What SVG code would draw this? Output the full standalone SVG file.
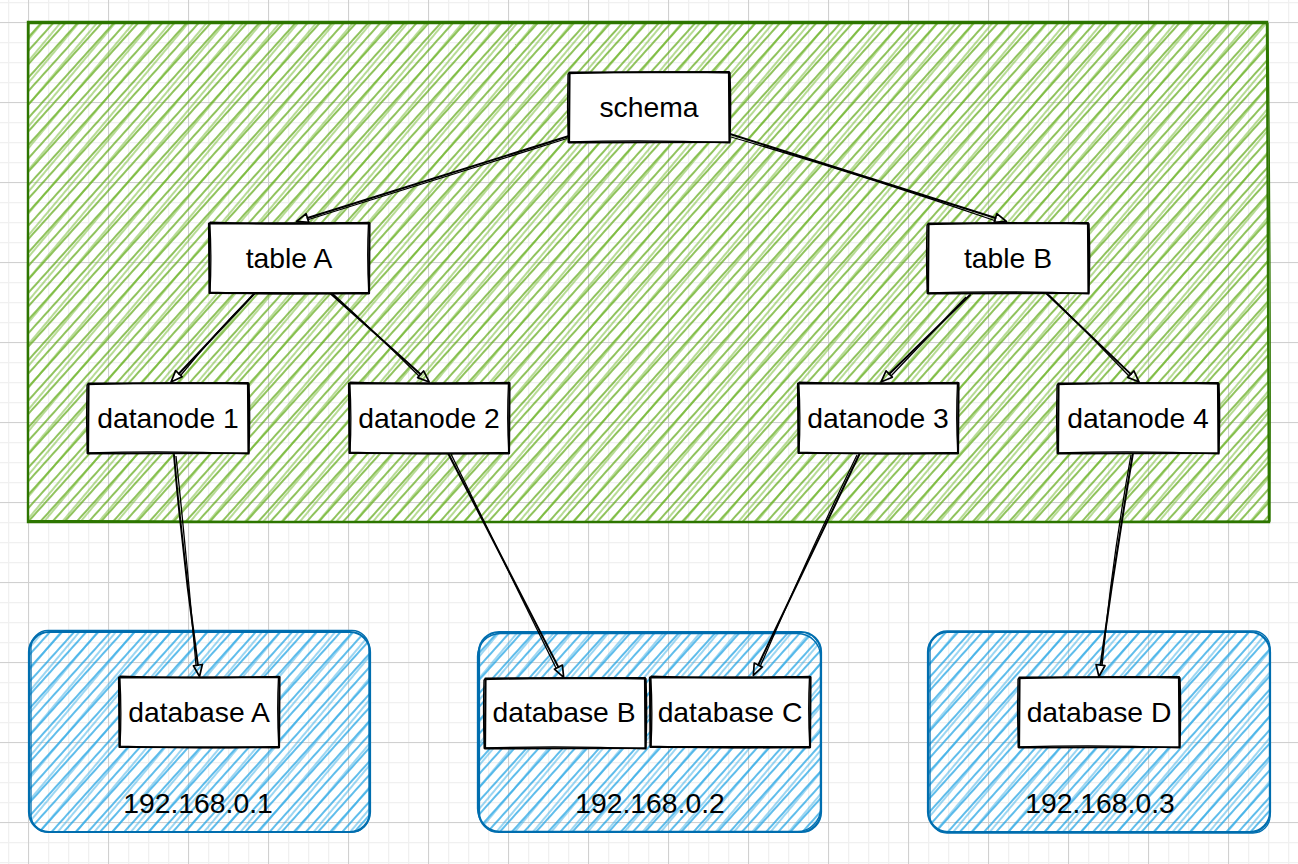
<svg xmlns="http://www.w3.org/2000/svg" xmlns:xlink="http://www.w3.org/1999/xlink" width="1298" height="864" viewBox="0 0 1298 864">
<style>
.t{font-family:"Liberation Sans",Arial,Helvetica,sans-serif;font-size:28.3px;fill:#000;text-anchor:middle}
.sk{fill:none;stroke:#000;stroke-width:2.2;stroke-linejoin:round}
.sk2{fill:none;stroke:#000;stroke-width:1.3}
.c{fill:none;stroke:#000;stroke-width:2;stroke-linecap:round}
.c2{fill:none;stroke:#000;stroke-width:1.3}
.gb{fill:none;stroke:#2D7600;stroke-width:2.4}
.gb2{fill:none;stroke:#2D7600;stroke-width:1.3}
.bb{fill:none;stroke:#006EAF;stroke-width:2.2}
.bb2{fill:none;stroke:#006EAF;stroke-width:1.3}
</style>
<defs>
<pattern id="gmin" patternUnits="userSpaceOnUse" x="8" y="2" width="20" height="20">
<path d="M0.5,0 V20 M0,0.5 H20" stroke="#f0f0f0" stroke-width="1.5" fill="none"/>
</pattern>
<pattern id="gmaj" patternUnits="userSpaceOnUse" x="28" y="22" width="80" height="80">
<path d="M0.5,0 V80 M0,0.5 H80" stroke="#d0d0d0" stroke-width="1" fill="none"/>
</pattern>
<pattern id="hg1" patternUnits="userSpaceOnUse" width="9" height="20" patternTransform="rotate(42)">
<line x1="1" y1="0" x2="1" y2="20" stroke="#60A917" stroke-width="1.4"/>
</pattern>
<pattern id="hg2" patternUnits="userSpaceOnUse" width="14" height="20" patternTransform="rotate(40) translate(4,0)">
<line x1="1" y1="0" x2="1" y2="20" stroke="#6fb82b" stroke-width="1"/>
</pattern>
<pattern id="hb1" patternUnits="userSpaceOnUse" width="9" height="20" patternTransform="rotate(42)">
<line x1="1" y1="0" x2="1" y2="20" stroke="#1BA1E2" stroke-width="1.4"/>
</pattern>
<pattern id="hb2" patternUnits="userSpaceOnUse" width="14" height="20" patternTransform="rotate(40) translate(4,0)">
<line x1="1" y1="0" x2="1" y2="20" stroke="#3aaee6" stroke-width="1"/>
</pattern>
<marker id="ah" viewBox="0 0 15 12" refX="1.5" refY="6" markerWidth="15" markerHeight="12" markerUnits="userSpaceOnUse" orient="auto">
<path d="M1.5,1.5 L13,6 L1.5,10.5 Z" fill="none" stroke="#000" stroke-width="1.7" stroke-linejoin="round"/>
</marker>
<g id="nb">
<rect x="0" y="0" width="160" height="70" fill="#fff"/>
<path class="sk" d="M0.5,0.5 L160,0 L160.5,70 L0,70.5 Z"/>
<path class="sk2" d="M-1,1.5 Q80,-1.5 161,0.8 Q162.5,35 160.8,70.8 Q80,67.5 -0.8,70 Q-2,35 -1,1.5"/>
</g>
<g id="nb2">
<rect x="0" y="0" width="160" height="70" fill="#fff"/>
<path class="sk" d="M0,0.5 L160.5,0.2 L160,70.3 L0.5,70 Z"/>
<path class="sk2" d="M0.8,-0.8 Q80,2.5 159.5,-0.5 Q157.8,35 159.8,69.5 Q80,72.5 1,69.2 Q2.8,35 0.8,-0.8"/>
</g>
</defs>

<rect width="1298" height="864" fill="#fff"/>
<rect width="1298" height="864" fill="url(#gmin)"/>
<rect width="1298" height="864" fill="url(#gmaj)"/>

<g id="cluster">
<rect x="28" y="22" width="1240" height="500" fill="url(#hg1)"/>
<rect x="28" y="22" width="1240" height="500" fill="url(#hg2)"/>
<path class="gb" d="M28,22 L1267,22 L1269,522 L28,522 Z"/>
<path class="gb2" d="M29,23.5 Q650,21 1268,23.5 Q1271,270 1270,521 Q650,524 28,520.5 Q26.5,270 29,23.5"/>
</g>

<g id="host1">
<rect x="29" y="632" width="341" height="200" rx="20" fill="url(#hb1)"/>
<rect x="29" y="632" width="341" height="200" rx="20" fill="url(#hb2)"/>
<rect class="bb" x="29" y="632" width="341" height="200" rx="20"/>
<rect class="bb2" x="31" y="630.5" width="338" height="201.5" rx="17"/>
<text class="t" x="198" y="813">192.168.0.1</text>
</g>
<g id="host2">
<rect x="479" y="632" width="342" height="200" rx="20" fill="url(#hb1)"/>
<rect x="479" y="632" width="342" height="200" rx="20" fill="url(#hb2)"/>
<rect class="bb" x="479" y="632" width="342" height="200" rx="20"/>
<rect class="bb2" x="477.5" y="633.5" width="343" height="198" rx="23"/>
<text class="t" x="650" y="813">192.168.0.2</text>
</g>
<g id="host3">
<rect x="928" y="632" width="342" height="200" rx="20" fill="url(#hb1)"/>
<rect x="928" y="632" width="342" height="200" rx="20" fill="url(#hb2)"/>
<rect class="bb" x="928" y="632" width="342" height="200" rx="20"/>
<rect class="bb2" x="930" y="631" width="340" height="202" rx="17"/>
<text class="t" x="1100" y="813">192.168.0.3</text>
</g>

<g id="connectors">
<path class="c" d="M569,136 L307.5,218" marker-end="url(#ah)"/>
<path class="c2" d="M567,138.5 Q440,178 307,220"/>
<path class="c" d="M730,134 L995.5,218" marker-end="url(#ah)"/>
<path class="c2" d="M731,137 Q860,174 996,221"/>
<path class="c" d="M255,293 L178.9,373.7" marker-end="url(#ah)"/>
<path class="c2" d="M252,296 Q215,333 181,375"/>
<path class="c" d="M330,293 L420.6,374.3" marker-end="url(#ah)"/>
<path class="c2" d="M333,294 Q378,335 419,376"/>
<path class="c" d="M970,295 L889.2,374" marker-end="url(#ah)"/>
<path class="c2" d="M966,297 Q928,337 891,376"/>
<path class="c" d="M1046,293 L1130.8,374.1" marker-end="url(#ah)"/>
<path class="c2" d="M1049,295 Q1090,335 1129,376"/>
<path class="c" d="M174,455 Q183,560 197.9,665.1" marker-end="url(#ah)"/>
<path class="c2" d="M176,456 Q187,560 196,665"/>
<path class="c" d="M448,453 L558.4,667.1" marker-end="url(#ah)"/>
<path class="c2" d="M451,454 Q503,560 556,668"/>
<path class="c" d="M860,453 L758.3,665" marker-end="url(#ah)"/>
<path class="c2" d="M857,455 Q805,562 760,667"/>
<path class="c" d="M1133,453 Q1115,560 1100.5,665.1" marker-end="url(#ah)"/>
<path class="c2" d="M1131,455 Q1112,560 1102,666"/>
</g>

<g id="schema"><use xlink:href="#nb" x="569" y="72"/><text class="t" x="649" y="117">schema</text></g>
<g id="tableA"><use xlink:href="#nb2" x="209" y="223"/><text class="t" x="289" y="268">table A</text></g>
<g id="tableB"><use xlink:href="#nb" x="928" y="223"/><text class="t" x="1008" y="268">table B</text></g>
<g id="datanode1"><use xlink:href="#nb" x="88" y="383"/><text class="t" x="168" y="428">datanode 1</text></g>
<g id="datanode2"><use xlink:href="#nb2" x="349" y="383"/><text class="t" x="429" y="428">datanode 2</text></g>
<g id="datanode3"><use xlink:href="#nb2" x="798" y="383"/><text class="t" x="878" y="428">datanode 3</text></g>
<g id="datanode4"><use xlink:href="#nb" x="1058" y="383"/><text class="t" x="1138" y="428">datanode 4</text></g>
<g id="databaseA"><use xlink:href="#nb2" x="119" y="677"/><text class="t" x="199" y="722">database A</text></g>
<g id="databaseB"><use xlink:href="#nb" x="485" y="678"/><text class="t" x="564" y="722">database B</text></g>
<g id="databaseC"><use xlink:href="#nb2" x="650" y="677"/><text class="t" x="730" y="722">database C</text></g>
<g id="databaseD"><use xlink:href="#nb" x="1019" y="677"/><text class="t" x="1099" y="722">database D</text></g>
</svg>
